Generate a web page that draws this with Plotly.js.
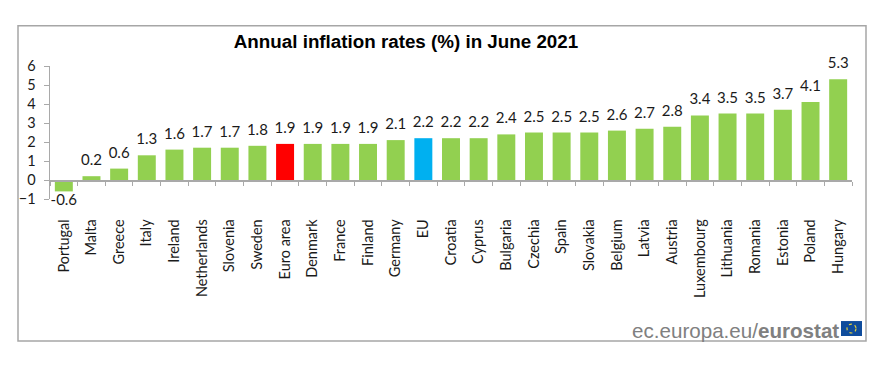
<!DOCTYPE html>
<html><head><meta charset="utf-8">
<script src="https://cdn.plot.ly/plotly-3.0.0.min.js"></script>
<style>html,body{margin:0;padding:0;background:#fff}</style></head>
<body><div id="chart" style="width:883px;height:377px"></div>
<script>
const countries = ["Portugal","Malta","Greece","Italy","Ireland","Netherlands","Slovenia","Sweden","Euro area","Denmark","France","Finland","Germany","EU","Croatia","Cyprus","Bulgaria","Czechia","Spain","Slovakia","Belgium","Latvia","Austria","Luxembourg","Lithuania","Romania","Estonia","Poland","Hungary"];
const rates = [-0.6,0.2,0.6,1.3,1.6,1.7,1.7,1.8,1.9,1.9,1.9,1.9,2.1,2.2,2.2,2.2,2.4,2.5,2.5,2.5,2.6,2.7,2.8,3.4,3.5,3.5,3.7,4.1,5.3];
const highlight = {"Euro area":"#ff0000","EU":"#00b0f0"};
const barColors = countries.map(c => highlight[c] || "#92d050");
const titleText = "Annual inflation rates (%) in June 2021";

const L=50,R=852,T=66,B=199.5;
const px = x => (x-L)/(R-L), py = y => (B-y)/(B-T);
const axisGrey="#a9a9a9", font="Lato, 'Open Sans', sans-serif";

Plotly.newPlot("chart",[{
  type:"bar",x:countries,y:rates,
  marker:{color:barColors,line:{width:0}},hoverinfo:"skip"
},{
  type:"scatter",mode:"markers+text",x:countries,y:rates,
  marker:{size:rates.map(v=>v<0?2:10),opacity:0},cliponaxis:false,
  text:rates.map(v=>v.toFixed(1)),
  textposition:rates.map(v=>v<0?"bottom center":"top center"),
  textfont:{family:font,size:15,color:"#1a1a1a"},hoverinfo:"skip"
}],{
  width:883,height:377,paper_bgcolor:"#fff",plot_bgcolor:"rgba(0,0,0,0)",showlegend:false,
  margin:{l:L,r:883-R,t:T,b:377-B,pad:0},bargap:0.35,
  title:{text:"<b>"+titleText+"</b>",x:406/883,xanchor:"center",y:1-41.5/377,yanchor:"middle",
    font:{family:"'Liberation Sans', Arial, sans-serif",size:18.8,color:"#000"}},
  xaxis:{type:"category",range:[-0.5,28.5],anchor:"free",position:1/7,showline:true,linecolor:axisGrey,linewidth:1.5,
    ticks:"outside",tickson:"boundaries",ticklen:4,tickcolor:axisGrey,tickwidth:1,
    tickangle:-90,tickfont:{family:font,size:14.5,color:"#1a1a1a"},ticklabelstandoff:32,showgrid:false,zeroline:false,automargin:false},
  yaxis:{range:[-1,6],dtick:1,showline:true,linecolor:axisGrey,linewidth:1.5,ticks:"outside",ticklen:5,tickcolor:axisGrey,tickwidth:1,
    tickfont:{family:font,size:14.5,color:"#1a1a1a"},ticklabelstandoff:5,showgrid:false,zeroline:false,automargin:false},
  shapes:[
    {type:"rect",xref:"paper",yref:"paper",x0:px(18),x1:px(866),y0:py(342),y1:py(25.5),line:{color:"#a6a6a6",width:1.5},layer:"below"},
    {type:"rect",xref:"paper",yref:"paper",x0:px(841),x1:px(862),y0:py(337),y1:py(322),fillcolor:"#0f4c9c",line:{width:0}},
    {type:"circle",xref:"paper",yref:"paper",x0:px(847),x1:px(856),y0:py(334),y1:py(325),line:{color:"#e3d13a",width:1.2,dash:"dot"}}
  ],
  annotations:[{xref:"paper",yref:"paper",x:px(841),y:py(331),xanchor:"right",yanchor:"middle",showarrow:false,
    text:"ec.europa.eu/<b>eurostat</b>",font:{family:"'Liberation Sans', Arial, sans-serif",size:20.6,color:"#808080"}}]
},{staticPlot:true,displayModeBar:false});
</script></body></html>
